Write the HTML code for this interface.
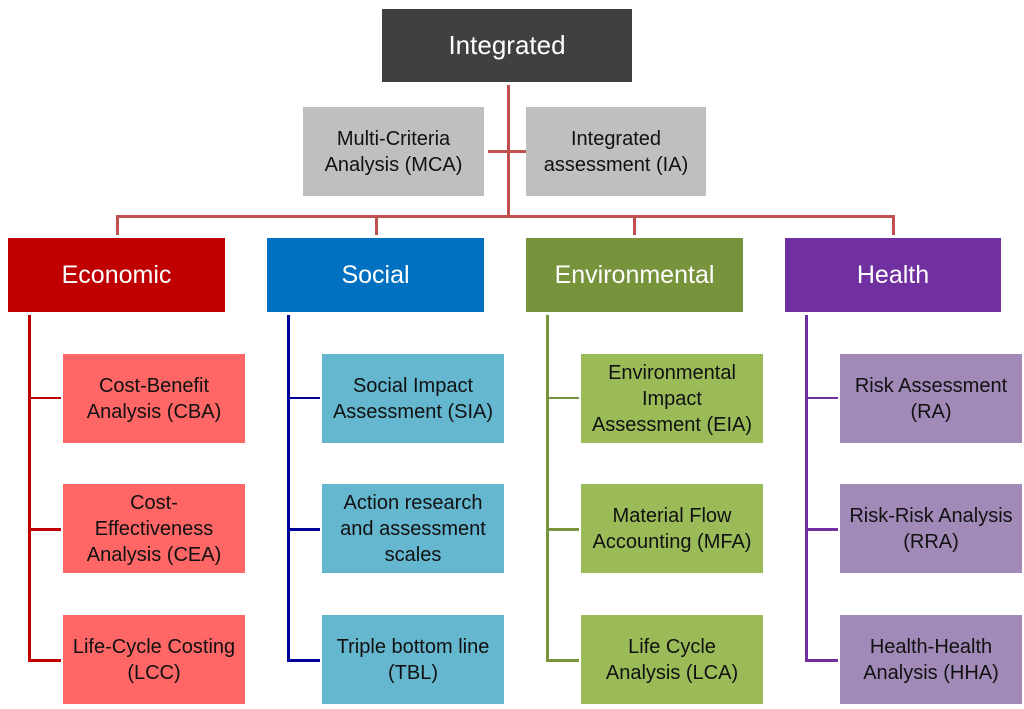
<!DOCTYPE html>
<html><head><style>
body{margin:0;width:1024px;height:709px;background:#fff;position:relative;overflow:hidden;font-family:"Liberation Sans",sans-serif}
.b{position:absolute;display:flex;align-items:center;justify-content:center;text-align:center;box-sizing:border-box}
.h{color:#fff;font-size:25px}
.c{color:#111;font-size:20px;line-height:26px;width:182px;height:89px}
.l{position:absolute}
</style></head><body>
<div class="b" style="left:382px;top:9px;width:250px;height:73px;background:#404040;color:#fff;font-size:26px">Integrated</div>
<div class="b c" style="left:303px;top:107px;width:181px;height:89px;background:#bfbfbf">Multi-Criteria<br>Analysis (MCA)</div>
<div class="b c" style="left:526px;top:107px;width:180px;height:89px;background:#bfbfbf">Integrated<br>assessment (IA)</div>
<!-- top connectors -->
<div class="l" style="left:507px;top:85px;width:3px;height:132px;background:#c0504d"></div>
<div class="l" style="left:488px;top:150px;width:38px;height:3px;background:#c0504d"></div>
<div class="l" style="left:116px;top:215px;width:779px;height:3px;background:#c0504d"></div>
<div class="l" style="left:116px;top:215px;width:3px;height:20px;background:#c0504d"></div>
<div class="l" style="left:375px;top:215px;width:3px;height:20px;background:#c0504d"></div>
<div class="l" style="left:633px;top:215px;width:3px;height:20px;background:#c0504d"></div>
<div class="l" style="left:892px;top:215px;width:3px;height:20px;background:#c0504d"></div>
<!-- headers -->
<div class="b h" style="left:8px;top:238px;width:217px;height:74px;background:#c00000">Economic</div>
<div class="b h" style="left:267px;top:238px;width:217px;height:74px;background:#0070c0">Social</div>
<div class="b h" style="left:526px;top:238px;width:217px;height:74px;background:#77933c">Environmental</div>
<div class="b h" style="left:785px;top:238px;width:216px;height:74px;background:#7030a0">Health</div>
<!-- vertical lines -->
<div class="l" style="left:28px;top:315px;width:3px;height:347px;background:#c00000"></div>
<div class="l" style="left:28px;top:397px;width:33px;height:2px;background:#c00000"></div>
<div class="l" style="left:28px;top:528px;width:33px;height:3px;background:#c00000"></div>
<div class="l" style="left:28px;top:659px;width:33px;height:3px;background:#c00000"></div>
<div class="l" style="left:287px;top:315px;width:3px;height:347px;background:#000099"></div>
<div class="l" style="left:287px;top:397px;width:33px;height:2px;background:#000099"></div>
<div class="l" style="left:287px;top:528px;width:33px;height:3px;background:#000099"></div>
<div class="l" style="left:287px;top:659px;width:33px;height:3px;background:#000099"></div>
<div class="l" style="left:546px;top:315px;width:3px;height:347px;background:#77933c"></div>
<div class="l" style="left:546px;top:397px;width:33px;height:2px;background:#77933c"></div>
<div class="l" style="left:546px;top:528px;width:33px;height:3px;background:#77933c"></div>
<div class="l" style="left:546px;top:659px;width:33px;height:3px;background:#77933c"></div>
<div class="l" style="left:805px;top:315px;width:3px;height:347px;background:#7030a0"></div>
<div class="l" style="left:805px;top:397px;width:33px;height:2px;background:#7030a0"></div>
<div class="l" style="left:805px;top:528px;width:33px;height:3px;background:#7030a0"></div>
<div class="l" style="left:805px;top:659px;width:33px;height:3px;background:#7030a0"></div>
<!-- children -->
<div class="b c" style="left:63px;top:354px;background:#ff6666">Cost-Benefit<br>Analysis (CBA)</div>
<div class="b c" style="left:63px;top:484px;background:#ff6666">Cost-<br>Effectiveness<br>Analysis (CEA)</div>
<div class="b c" style="left:63px;top:615px;background:#ff6666">Life-Cycle Costing<br>(LCC)</div>
<div class="b c" style="left:322px;top:354px;background:#65b7cf">Social Impact<br>Assessment (SIA)</div>
<div class="b c" style="left:322px;top:484px;background:#65b7cf">Action research<br>and assessment<br>scales</div>
<div class="b c" style="left:322px;top:615px;background:#65b7cf">Triple bottom line<br>(TBL)</div>
<div class="b c" style="left:581px;top:354px;background:#9bbb59">Environmental<br>Impact<br>Assessment (EIA)</div>
<div class="b c" style="left:581px;top:484px;background:#9bbb59">Material Flow<br>Accounting (MFA)</div>
<div class="b c" style="left:581px;top:615px;background:#9bbb59">Life Cycle<br>Analysis (LCA)</div>
<div class="b c" style="left:840px;top:354px;background:#a18ab8">Risk Assessment<br>(RA)</div>
<div class="b c" style="left:840px;top:484px;background:#a18ab8">Risk-Risk Analysis<br>(RRA)</div>
<div class="b c" style="left:840px;top:615px;background:#a18ab8">Health-Health<br>Analysis (HHA)</div>
</body></html>
